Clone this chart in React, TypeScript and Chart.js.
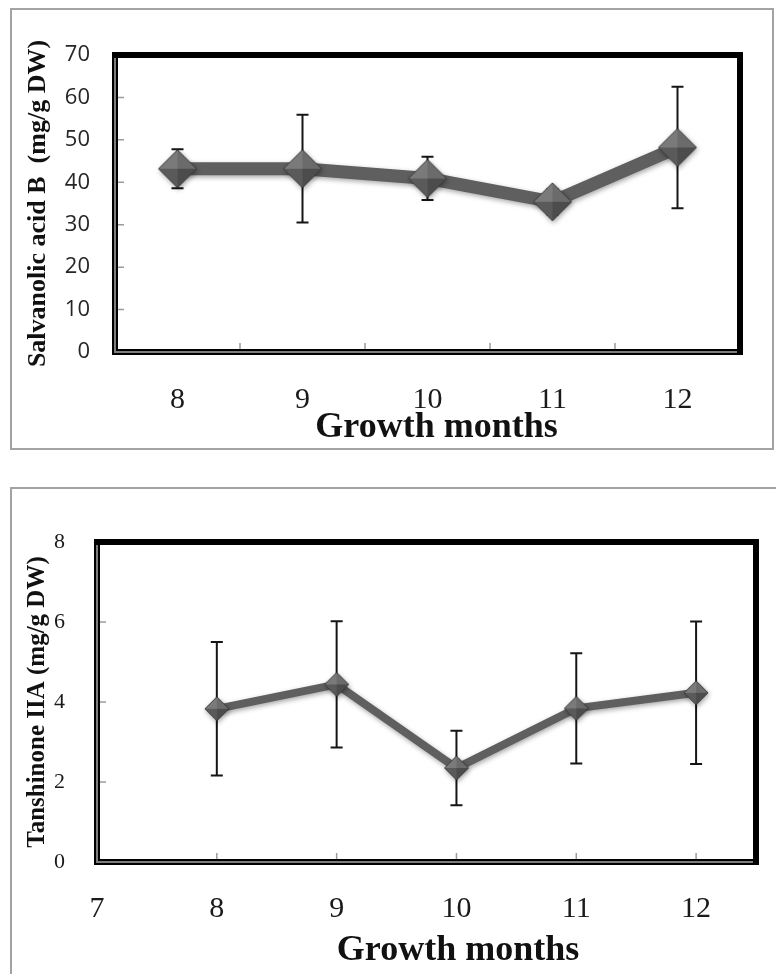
import React, { useEffect, useRef } from 'react';
import { Chart, registerables } from 'chart.js';

Chart.register(...registerables);

// ---- Data: top chart (Salvanolic acid B) ----
const monthLabels = ['8', '9', '10', '11', '12'];
const salvanolicB = [43.2, 43.2, 40.9, 35.4, 48.2];
const salvanolicBErr = [4.6, 12.7, 5.1, 3.0, 14.3];

// ---- Data: bottom chart (Tanshinone IIA) ----
const monthValues = [8, 9, 10, 11, 12];
const tanshinone = [3.83, 4.44, 2.35, 3.84, 4.23];
const tanshinoneErr = [1.67, 1.58, 0.93, 1.38, 1.78];
const tanXTicks = [7, 8, 9, 10, 11, 12];

const SERIF = '"Liberation Serif", "Times New Roman", serif';
const SANS = '"Open Sans", "Noto Sans", sans-serif';

function makeDiamond(r: number): HTMLCanvasElement {
  const pad = 2;
  const size = Math.ceil(2 * r + pad * 2);
  const c = document.createElement('canvas');
  c.width = size;
  c.height = size;
  const g = c.getContext('2d')!;
  const m = size / 2;
  const T: [number, number] = [m, m - r];
  const R: [number, number] = [m + r, m];
  const B: [number, number] = [m, m + r];
  const L: [number, number] = [m - r, m];
  const tri = (a: [number, number], b: [number, number], col: string) => {
    g.beginPath();
    g.moveTo(a[0], a[1]);
    g.lineTo(b[0], b[1]);
    g.lineTo(m, m);
    g.closePath();
    g.fillStyle = col;
    g.fill();
  };
  tri(L, T, '#7a7a7a');
  tri(T, R, '#6b6b6b');
  tri(R, B, '#4c4c4c');
  tri(B, L, '#5a5a5a');
  g.beginPath();
  g.moveTo(T[0], T[1]);
  g.lineTo(R[0], R[1]);
  g.lineTo(B[0], B[1]);
  g.lineTo(L[0], L[1]);
  g.closePath();
  g.strokeStyle = 'rgba(55,55,55,0.9)';
  g.lineWidth = 1;
  g.stroke();
  return c;
}

interface DecorCfg {
  means: number[];
  errs: number[];
  capWidth: number;
  xBetween: boolean;
  tickLen: number;
}

function makeDecor(cfg: DecorCfg) {
  return {
    id: 'decor',
    beforeDatasetsDraw(chart: any) {
      const ctx = chart.ctx as CanvasRenderingContext2D;
      const y = chart.scales.y;
      const meta = chart.getDatasetMeta(0);
      ctx.save();
      ctx.strokeStyle = '#151515';
      ctx.lineWidth = 2;
      meta.data.forEach((pt: any, i: number) => {
        const px = pt.x;
        const hi = y.getPixelForValue(cfg.means[i] + cfg.errs[i]);
        const lo = y.getPixelForValue(cfg.means[i] - cfg.errs[i]);
        ctx.beginPath();
        ctx.moveTo(px, hi);
        ctx.lineTo(px, lo);
        ctx.moveTo(px - cfg.capWidth / 2, hi);
        ctx.lineTo(px + cfg.capWidth / 2, hi);
        ctx.moveTo(px - cfg.capWidth / 2, lo);
        ctx.lineTo(px + cfg.capWidth / 2, lo);
        ctx.stroke();
      });
      ctx.restore();
      ctx.save();
      ctx.shadowColor = 'rgba(0,0,0,0.35)';
      ctx.shadowBlur = 5;
      ctx.shadowOffsetX = 1;
      ctx.shadowOffsetY = 2;
    },
    afterDatasetsDraw(chart: any) {
      chart.ctx.restore();
    },
    afterDraw(chart: any) {
      const ctx = chart.ctx as CanvasRenderingContext2D;
      const { left, top, right, bottom } = chart.chartArea;
      const x = chart.scales.x;
      const y = chart.scales.y;
      ctx.save();
      ctx.strokeStyle = '#9c9c9c';
      ctx.lineWidth = 1.5;
      ctx.beginPath();
      y.ticks.forEach((t: any) => {
        const py = y.getPixelForValue(t.value);
        if (py <= top + 4 || py >= bottom - 4) return;
        ctx.moveTo(left, py);
        ctx.lineTo(left + cfg.tickLen, py);
      });
      if (cfg.xBetween) {
        const n = chart.data.labels.length;
        for (let i = 0; i < n - 1; i++) {
          const px = (x.getPixelForValue(i) + x.getPixelForValue(i + 1)) / 2;
          ctx.moveTo(px, bottom);
          ctx.lineTo(px, bottom - cfg.tickLen);
        }
      } else {
        x.ticks.forEach((t: any) => {
          const px = x.getPixelForValue(t.value);
          if (px <= left + 4 || px >= right - 4) return;
          ctx.moveTo(px, bottom);
          ctx.lineTo(px, bottom - cfg.tickLen);
        });
      }
      ctx.stroke();
      // plot frame
      ctx.lineJoin = 'miter';
      ctx.strokeStyle = '#000';
      ctx.lineWidth = 6;
      ctx.strokeRect(left, top, right - left, bottom - top);
      ctx.strokeStyle = '#7d7d7d';
      ctx.lineWidth = 2;
      ctx.beginPath();
      ctx.moveTo(left, top + 3);
      ctx.lineTo(left, bottom);
      ctx.lineTo(right - 3, bottom);
      ctx.stroke();
      ctx.restore();
    },
  };
}

export default function App() {
  const ref1 = useRef<HTMLCanvasElement>(null);
  const ref2 = useRef<HTMLCanvasElement>(null);

  useEffect(() => {
    const c1 = new Chart(ref1.current!, {
      type: 'line',
      data: {
        labels: monthLabels,
        datasets: [
          {
            data: salvanolicB,
            borderColor: '#5f5f5f',
            borderWidth: 13,
            pointStyle: makeDiamond(19) as any,
            pointRadius: 19,
            tension: 0,
            clip: false as any,
          },
        ],
      },
      options: {
        animation: false,
        responsive: false,
        devicePixelRatio: 1,
        layout: { padding: { top: 45, right: 22, left: 0, bottom: 0 } },
        plugins: { legend: { display: false }, tooltip: { enabled: false } },
        scales: {
          x: {
            type: 'category',
            offset: true,
            grid: { display: false, drawTicks: false },
            border: { display: false },
            ticks: { font: { family: SERIF, size: 30 }, color: '#1a1a1a', padding: 30 },
            title: {
              display: true,
              text: '  Growth months',
              font: { family: SERIF, size: 36, weight: 'bold', lineHeight: 1 },
              color: '#111',
              padding: { top: 0, bottom: 2 },
            },
            afterFit: (s: any) => {
              s.height = 96;
            },
          },
          y: {
            min: 0,
            max: 70,
            grid: { display: false, drawTicks: false },
            border: { display: false },
            ticks: { stepSize: 10, font: { family: SANS, size: 22 }, color: '#262626', padding: 25 },
            title: {
              display: true,
              text: 'Salvanolic acid B  (mg/g DW)',
              font: { family: SERIF, size: 26, weight: 'bold', lineHeight: 1 },
              color: '#111',
              padding: { top: 13, bottom: 0 },
            },
            afterFit: (s: any) => {
              s.width = 103;
            },
          },
        },
      },
      plugins: [
        makeDecor({ means: salvanolicB, errs: salvanolicBErr, capWidth: 12, xBetween: true, tickLen: 9 }),
      ],
    });

    const c2 = new Chart(ref2.current!, {
      type: 'line',
      data: {
        datasets: [
          {
            data: monthValues.map((m, i) => ({ x: m, y: tanshinone[i] })),
            borderColor: '#5f5f5f',
            borderWidth: 8,
            pointStyle: makeDiamond(12) as any,
            pointRadius: 12,
            tension: 0,
            clip: false as any,
          },
        ],
      },
      options: {
        animation: false,
        responsive: false,
        devicePixelRatio: 1,
        layout: { padding: { top: 53, right: 17, left: 0, bottom: 0 } },
        plugins: { legend: { display: false }, tooltip: { enabled: false } },
        scales: {
          x: {
            type: 'linear',
            min: 7,
            max: 12.5,
            grid: { display: false, drawTicks: false },
            border: { display: false },
            afterBuildTicks: (s: any) => {
              s.ticks = tanXTicks.map((v) => ({ value: v }));
            },
            ticks: { font: { family: SERIF, size: 30 }, color: '#1a1a1a', padding: 29 },
            title: {
              display: true,
              text: '       Growth months',
              font: { family: SERIF, size: 36, weight: 'bold', lineHeight: 1 },
              color: '#111',
              padding: { top: 0, bottom: 5 },
            },
            afterFit: (s: any) => {
              s.height = 112;
            },
          },
          y: {
            min: 0,
            max: 8,
            grid: { display: false, drawTicks: false },
            border: { display: false },
            ticks: { stepSize: 2, font: { family: SERIF, size: 22 }, color: '#1a1a1a', padding: 32 },
            title: {
              display: true,
              text: 'Tanshinone IIA (mg/g DW)',
              font: { family: SERIF, size: 25, weight: 'bold', lineHeight: 1 },
              color: '#111',
              padding: { top: 13.5, bottom: 0 },
            },
            afterFit: (s: any) => {
              s.width = 85;
            },
          },
        },
      },
      plugins: [
        makeDecor({ means: tanshinone, errs: tanshinoneErr, capWidth: 12, xBetween: false, tickLen: 9 }),
      ],
    });

    return () => {
      c1.destroy();
      c2.destroy();
    };
  }, []);

  return (
    <div
      style={{
        position: 'absolute',
        left: 0,
        top: 0,
        width: 776,
        height: 974,
        overflow: 'hidden',
        background: '#fff',
      }}
    >
      <div
        style={{
          position: 'absolute',
          left: 10,
          top: 8,
          width: 764,
          height: 442,
          border: '2px solid #a3a3a3',
          boxSizing: 'border-box',
        }}
      />
      <canvas
        ref={ref1}
        width={760}
        height={438}
        style={{ position: 'absolute', left: 12, top: 10, width: 760, height: 438 }}
      />
      <div
        style={{
          position: 'absolute',
          left: 10,
          top: 487,
          width: 800,
          height: 520,
          border: '2px solid #a3a3a3',
          boxSizing: 'border-box',
        }}
      />
      <canvas
        ref={ref2}
        width={764}
        height={485}
        style={{ position: 'absolute', left: 12, top: 489, width: 764, height: 485 }}
      />
    </div>
  );
}
